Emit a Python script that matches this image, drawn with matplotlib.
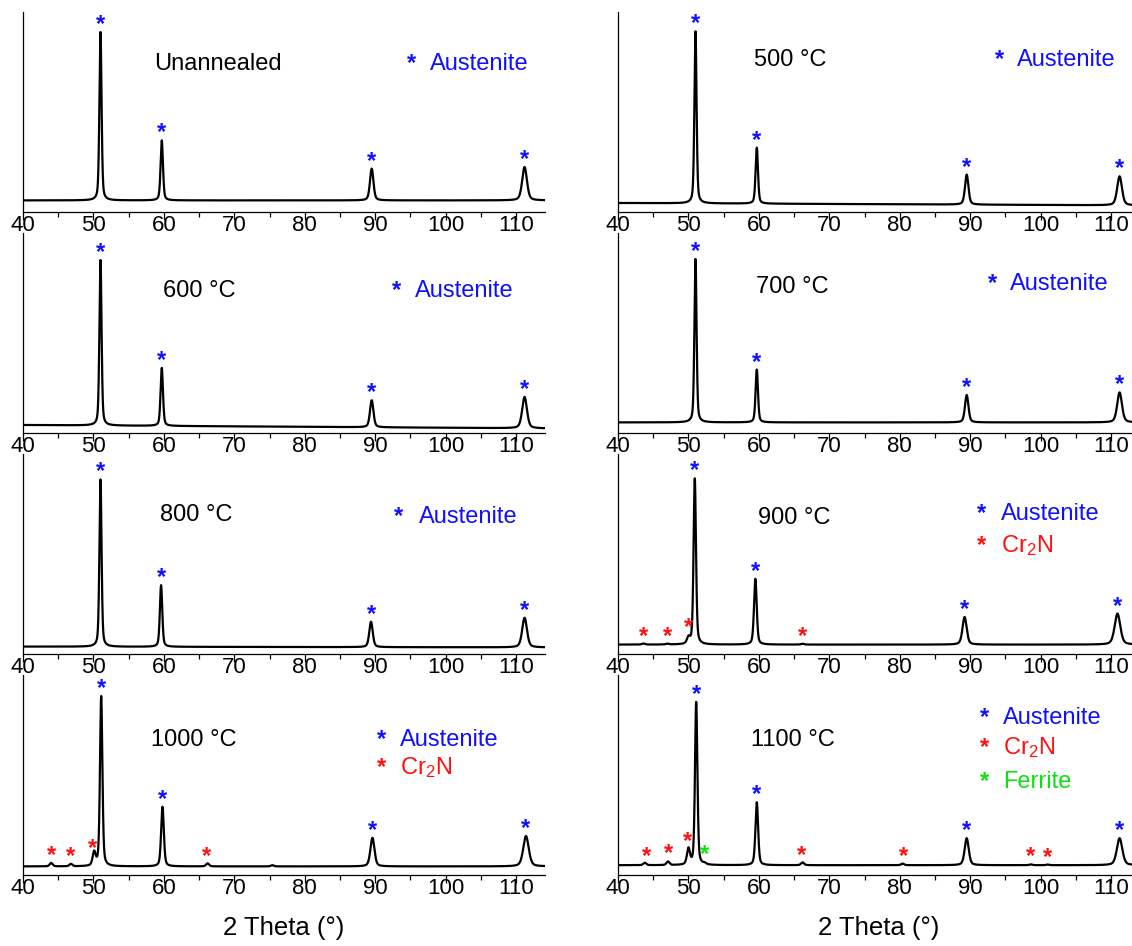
import numpy as np
import matplotlib
matplotlib.use("Agg")
import matplotlib.pyplot as plt
from matplotlib.ticker import MultipleLocator

plt.rcParams['font.family'] = ['Liberation Sans', 'DejaVu Sans']
plt.rcParams['mathtext.fontset'] = 'custom'
plt.rcParams['mathtext.rm'] = 'Liberation Sans'
plt.rcParams['mathtext.it'] = 'Liberation Sans:italic'

# ---- data (intensity in arbitrary units, 0..1 of panel height) ----
samples = ['Unannealed', '500 °C', '600 °C', '700 °C',
           '800 °C', '900 °C', '1000 °C', '1100 °C']

# background level at 40 deg and at the right end
base_left = [0.058, 0.045, 0.040, 0.053, 0.037, 0.047, 0.043, 0.049]
base_right = [0.058, 0.033, 0.023, 0.053, 0.033, 0.047, 0.043, 0.049]

# austenite reflections: position, net height, fwhm
aus_pos = [[51.0, 59.7, 89.5, 111.2],
           [51.0, 59.7, 89.5, 111.2],
           [51.0, 59.7, 89.5, 111.2],
           [51.0, 59.7, 89.5, 111.2],
           [51.0, 59.6, 89.4, 111.2],
           [50.9, 59.5, 89.2, 110.9],
           [51.1, 59.8, 89.6, 111.4],
           [51.1, 59.7, 89.5, 111.2]]
aus_int = [[0.842, 0.300, 0.159, 0.167],
           [0.860, 0.280, 0.150, 0.145],
           [0.827, 0.290, 0.135, 0.157],
           [0.817, 0.264, 0.137, 0.150],
           [0.836, 0.308, 0.127, 0.148],
           [0.830, 0.329, 0.138, 0.155],
           [0.850, 0.298, 0.143, 0.152],
           [0.815, 0.315, 0.135, 0.135]]
aus_fwhm = [[0.36, 0.40, 0.58, 0.80],
            [0.36, 0.40, 0.58, 0.80],
            [0.36, 0.40, 0.58, 0.80],
            [0.36, 0.40, 0.58, 0.80],
            [0.36, 0.40, 0.58, 0.80],
            [0.40, 0.45, 0.70, 0.95],
            [0.40, 0.45, 0.68, 0.92],
            [0.40, 0.45, 0.68, 0.92]]

# Cr2N / ferrite reflections (only the annealed 900-1100 °C samples)
cr2n_pos = {5: [43.6, 47.0, 50.0, 66.2],
            6: [44.0, 46.8, 50.1, 66.2, 75.4],
            7: [43.8, 47.1, 50.0, 66.2, 80.4, 98.6, 101.0]}
cr2n_int = {5: [0.005, 0.004, 0.030, 0.004],
            6: [0.017, 0.012, 0.066, 0.015, 0.006],
            7: [0.012, 0.018, 0.079, 0.014, 0.008, 0.004, 0.003]}
fer_pos = {7: [52.3]}
fer_int = {7: [0.006]}

# where the phase asterisks sit (2theta)
cr2n_marks = {5: [43.6, 47.0, 50.0, 66.2],
              6: [44.0, 46.8, 49.9, 66.0],
              7: [44.0, 47.1, 49.9, 66.1, 80.5, 98.6, 101.0]}
fer_marks = {7: [52.3]}

# text placement: sample label (x start, y), legend star x, legend text x, legend rows y
title_x = [58.6, 59.3, 59.9, 59.6, 59.5, 59.9, 58.1, 58.9]
title_y = [0.74, 0.76, 0.71, 0.73, 0.695, 0.68, 0.675, 0.675]
leg_star_x = [95.1, 94.1, 93.0, 93.1, 93.3, 91.6, 90.9, 92.0]
leg_text_x = [97.8, 96.7, 95.7, 95.7, 96.2, 94.3, 93.5, 94.7]
leg_y = [[0.74], [0.76], [0.71], [0.745], [0.687],
         [0.70, 0.54], [0.675, 0.535], [0.785, 0.635, 0.465]]
leg_names = ['Austenite', 'Cr$_2$N', 'Ferrite']

BLUE = '#1010ff'
RED = '#ff1010'
GREEN = '#10e010'
phase_colors = [BLUE, RED, GREEN]

XMAX = 114.1
tt = np.arange(40, XMAX + 0.01, 0.01)


def pv(x, c, h, w, eta=0.4):
    g = np.exp(-4 * np.log(2) * ((x - c) / w) ** 2)
    l = 1.0 / (1.0 + ((x - c) / (w / 2)) ** 2)
    return h * (eta * l + (1 - eta) * g)


def pattern(i):
    y = base_left[i] + (base_right[i] - base_left[i]) * (tt - 40) / (XMAX - 40)
    for c, h, w in zip(aus_pos[i], aus_int[i], aus_fwhm[i]):
        y = y + pv(tt, c, h, w)
    for c, h in zip(cr2n_pos.get(i, []), cr2n_int.get(i, [])):
        y = y + pv(tt, c, h, 0.5)
    for c, h in zip(fer_pos.get(i, []), fer_int.get(i, [])):
        y = y + pv(tt, c, h, 0.5)
    return y


def star(ax, x, y, color):
    ax.annotate('*', xy=(x, y), xytext=(0, 1), textcoords='offset pixels',
                ha='center', va='baseline', color=color, fontsize=17,
                fontweight='bold', annotation_clip=False)


W, H = 1132, 946
fig = plt.figure(figsize=(W / 100, H / 100), dpi=100)

col_x = [23, 618]
ax_w = 522
row_top = [12, 233, 454, 675]
ax_h = 200

for i, name in enumerate(samples):
    r, c = divmod(i, 2)
    ax = fig.add_axes([col_x[c] / W, 1 - (row_top[r] + ax_h) / H, ax_w / W, ax_h / H])
    y = pattern(i)
    ax.plot(tt, y, color='black', lw=1.6)
    ax.set_xlim(40, XMAX)
    ax.set_ylim(0, 1)

    for sp in ['top', 'right']:
        ax.spines[sp].set_visible(False)
    for sp in ['left', 'bottom']:
        ax.spines[sp].set_linewidth(0.9)
    ax.set_yticks([])
    ax.xaxis.set_major_locator(MultipleLocator(10))
    ax.xaxis.set_minor_locator(MultipleLocator(5))
    ax.tick_params(axis='x', which='major', direction='out', length=6, width=0.9,
                   pad=-3.5, labelsize=16)
    ax.tick_params(axis='x', which='minor', direction='out', length=3.5, width=0.9)

    # phase asterisks above reflections
    for p in aus_pos[i]:
        star(ax, p, np.interp(p, tt, y), BLUE)
    for p in cr2n_marks.get(i, []):
        star(ax, p, np.interp(p, tt, y), RED)
    for p in fer_marks.get(i, []):
        star(ax, p, np.interp(p, tt, y), GREEN)

    trans = ax.get_xaxis_transform()
    ax.text(title_x[i], title_y[i], name, transform=trans, ha='left', va='center',
            fontsize=17, color='black')
    for k, ly in enumerate(leg_y[i]):
        ax.text(leg_star_x[i], ly, '*', transform=trans, ha='center', va='center',
                fontsize=17, fontweight='bold', color=phase_colors[k], clip_on=False)
        ax.text(leg_text_x[i], ly, leg_names[k], transform=trans, ha='left', va='center',
                fontsize=17, color=phase_colors[k], clip_on=False)

for c in range(2):
    fig.text((col_x[c] + ax_w / 2) / W, 1 - 928 / H, '2 Theta (°)',
             ha='center', va='center', fontsize=18.5)

fig.savefig('out.png', dpi=100)
